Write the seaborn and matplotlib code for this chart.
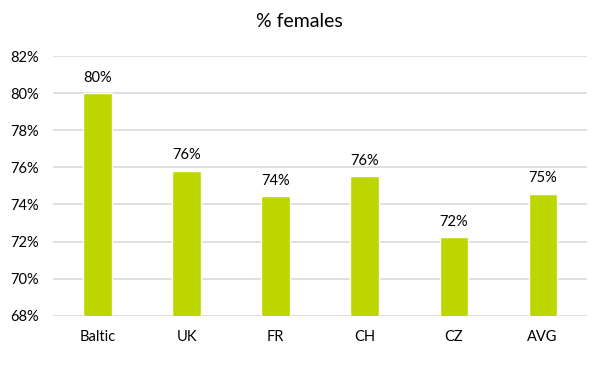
import matplotlib
matplotlib.use("Agg")
import matplotlib.pyplot as plt
import seaborn as sns
import pandas as pd
from matplotlib.ticker import FuncFormatter

categories = ["Baltic", "UK", "FR", "CH", "CZ", "AVG"]
values = [80.0, 75.82, 74.43, 75.52, 72.22, 74.58]
yticks = [68, 70, 72, 74, 76, 78, 80, 82]

df = pd.DataFrame({"cat": categories, "val": values})

sns.set_theme(style="white")
plt.rcParams["font.family"] = ["Lato", "DejaVu Sans"]

fig = plt.figure(figsize=(5.99, 3.69), dpi=100)
ax = fig.add_axes([0.0885, 0.1445, 0.8915, 0.7035])

sns.barplot(data=df, x="cat", y="val", color="#BDD600", saturation=1,
            width=0.315, ax=ax, zorder=3)

ax.set_ylim(68, 82)
ax.set_yticks(yticks)
ax.yaxis.set_major_formatter(FuncFormatter(lambda v, p: f"{v:.0f}%"))
ax.grid(axis="y", color="#D9D9D9", linewidth=1.2, zorder=0)
ax.grid(axis="x", visible=False)
for s in ax.spines.values():
    s.set_visible(False)
ax.set_xlabel("")
ax.set_ylabel("")
ax.tick_params(axis="both", length=0, labelsize=10.5, colors="#000000")
ax.tick_params(axis="x", pad=10)
ax.tick_params(axis="y", pad=10)
ax.set_xlim(-0.5, 5.5)

for i, v in enumerate(values):
    ax.annotate(f"{v:.0f}%", (i, v), xytext=(0, 6), textcoords="offset points",
                ha="center", va="bottom", fontsize=10.5, color="#000000")

fig.text(0.5, 0.943, "% females", ha="center", va="center",
         fontsize=14, color="#000000")

fig.savefig("out.png", dpi=100)
